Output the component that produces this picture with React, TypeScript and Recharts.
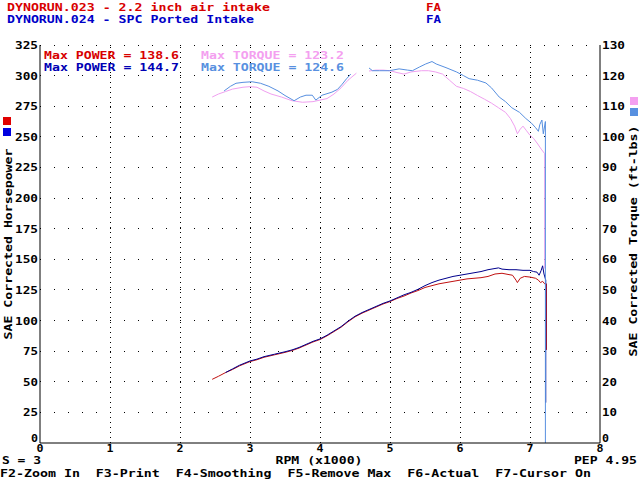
import React from "react";
import { LineChart, Line, XAxis, YAxis, ReferenceLine } from "recharts";

const FONT = "'DejaVu Sans Mono', 'Liberation Mono', monospace";
const TXT: React.CSSProperties = { fontFamily: FONT, fontSize: 10.5, fontWeight: 700, whiteSpace: "pre" };

const RPM_TICKS = [0, 1, 2, 3, 4, 5, 6, 7, 8];
const HP_TICKS = [0, 25, 50, 75, 100, 125, 150, 175, 200, 225, 250, 275, 300, 325];
const TQ_TICKS = [0, 10, 20, 30, 40, 50, 60, 70, 80, 90, 100, 110, 120, 130];

// DYNORUN.023 - 2.2 inch air intake
const R023_PWR_RPM = [2.46, 2.55, 2.65, 2.75, 2.85, 3.0, 3.1, 3.2, 3.35, 3.5, 3.6, 3.7, 3.8, 3.9, 4.0, 4.1, 4.2, 4.3, 4.4, 4.5, 4.6, 4.7, 4.8, 4.9, 5.0, 5.1, 5.2, 5.3, 5.4, 5.5, 5.6, 5.7, 5.8, 5.9, 6.0, 6.1, 6.2, 6.3, 6.4, 6.5, 6.6, 6.7, 6.75, 6.8, 6.82, 6.86, 6.92, 7.0, 7.08, 7.12, 7.15, 7.18, 7.21, 7.235, 7.235];
const R023_PWR_HP = [52, 54.5, 57.5, 60, 63, 66.5, 68, 70, 72, 74, 75.5, 77.5, 80, 82.5, 84.5, 87.5, 91, 94.5, 99, 103, 106, 108.5, 111, 113.5, 115.5, 118, 120, 122.5, 124.5, 127, 128.5, 130, 131, 132, 133, 134, 134.5, 135, 136, 138, 138.6, 137.5, 137, 133, 131, 134.5, 136, 135.5, 134.5, 133, 131, 132, 130, 130, 76];

const R023_TQ_RPM = [2.46, 2.55, 2.65, 2.75, 2.9, 3.0, 3.1, 3.2, 3.3, 3.45, 3.6, 3.75, 3.9, 4.0, 4.1, 4.2, 4.3, 4.4, 4.52, 4.6, 4.7, 4.8, 4.9, 5.0, 5.1, 5.2, 5.3, 5.45, 5.55, 5.65, 5.75, 5.85, 5.95, 6.05, 6.15, 6.25, 6.35, 6.45, 6.55, 6.65, 6.72, 6.78, 6.82, 6.86, 6.9, 6.95, 7.0, 7.05, 7.1, 7.16, 7.21, 7.21];
const R023_TQ = [113, 114, 114.8, 115.6, 116.2, 116.4, 116.2, 115, 114, 113, 111.8, 111.3, 111.5, 112, 112.5, 114, 116, 118.5, 120.8, null, 121.5, 121.8, 121.8, 121.6, 121, 120.5, 121.2, 121.6, 121.6, 121.2, 120.5, 118.5, 116.5, 115.8, 114.8, 113.5, 112.3, 111, 109.5, 108, 106, 103.5, 101, 102.5, 103.5, 102, 100.5, 99.5, 98, 96, 94.5, 57];

// DYNORUN.024 - SPC Ported Intake
const R024_PWR_RPM = [2.65, 2.75, 2.85, 3.0, 3.1, 3.2, 3.35, 3.5, 3.6, 3.7, 3.8, 3.9, 4.0, 4.1, 4.2, 4.3, 4.4, 4.5, 4.6, 4.7, 4.8, 4.9, 5.0, 5.1, 5.2, 5.3, 5.4, 5.5, 5.6, 5.7, 5.8, 5.9, 6.0, 6.1, 6.2, 6.3, 6.4, 6.5, 6.55, 6.6, 6.7, 6.8, 6.9, 7.0, 7.05, 7.1, 7.13, 7.16, 7.18, 7.2, 7.225, 7.225];
const R024_PWR_HP = [57.5, 60.5, 63.5, 67, 68.5, 70.5, 72.5, 74.5, 76, 78, 80.5, 83, 85, 88, 91.5, 95, 99.5, 103.5, 106.5, 109, 111.5, 114, 116, 118.5, 121, 123, 125.5, 128.5, 131, 133, 134.5, 136, 137, 138, 139, 140, 141.5, 142.5, 143, 142, 141.5, 141.5, 141, 141, 140, 139.5, 137, 141, 144.7, 138, 133, 33];

const R024_TQ_RPM = [2.63, 2.72, 2.8, 2.9, 3.03, 3.15, 3.27, 3.4, 3.5, 3.63, 3.72, 3.8, 3.89, 3.94, 4.03, 4.17, 4.25, 4.31, 4.38, 4.44, 4.6, 4.7, 4.75, 4.85, 4.99, 5.13, 5.25, 5.32, 5.42, 5.51, 5.6, 5.66, 5.8, 5.95, 6.05, 6.13, 6.25, 6.37, 6.45, 6.56, 6.65, 6.74, 6.85, 6.94, 7.02, 7.08, 7.12, 7.14, 7.17, 7.19, 7.22, 7.22];
const R024_TQ = [115, 116.5, 117.5, 117.8, 118, 117.5, 116.5, 115, 113.5, 111.8, 113, 113.6, 113.6, 112, 113.6, 114.6, 115.5, 117, 119, 120.5, null, 122.5, 121.6, 121.6, 121.6, 122.2, 121.8, 121.6, 122.8, 123.8, 124.6, 123.8, 122.6, 121.2, 120, 119, 118.5, 117.6, 116, 113, 111.5, 109.5, 108, 106, 104.5, 103, 101.8, 104, 105.5, 101, 105, 0];

const pts = (xs: number[], ys: (number | null)[]) => xs.map((x, i) => ({ rpm: x, v: ys[i] }));

// DOS-style text: every character is 8px wide
function T({ s, ...rest }: any) {
  return (
    <text textLength={s.length * 8 - 1} lengthAdjust="spacingAndGlyphs" style={TXT} {...rest}>
      {s}
    </text>
  );
}

function LeftTick(props: any) {
  const { x, y, payload } = props;
  return <T s={String(payload.value)} x={x} y={payload.value === 0 ? y - 5 : y} textAnchor="end" dominantBaseline="central" fill="#000" />;
}

function RightTick(props: any) {
  const { x, y, payload } = props;
  return <T s={String(payload.value)} x={x} y={payload.value === 0 ? y - 5 : y} textAnchor="start" dominantBaseline="central" fill="#000" />;
}

function BottomTick(props: any) {
  const { x, y, payload } = props;
  return <T s={String(payload.value)} x={x} y={y + 5} textAnchor="middle" dominantBaseline="central" fill="#000" />;
}

export default function App() {
  return (
    <div style={{ position: "absolute", left: 0, top: 0, width: 640, height: 480, background: "#fff" }}>
      <LineChart width={640} height={480} margin={{ top: 45, right: 0, bottom: 0, left: 0 }}>
        <XAxis
          type="number" dataKey="rpm" domain={[0, 8]} ticks={RPM_TICKS} interval={0}
          height={37} tickSize={0} tickMargin={0} tickLine={false}
          axisLine={{ stroke: "#000" }} tick={BottomTick}
        />
        <YAxis
          yAxisId="hp" orientation="left" type="number" domain={[0, 325]} ticks={HP_TICKS} interval={0}
          width={40} tickSize={0} tickMargin={2} tickLine={false}
          axisLine={{ stroke: "#000" }} tick={LeftTick}
        />
        <YAxis
          yAxisId="tq" orientation="right" type="number" domain={[0, 130]} ticks={TQ_TICKS} interval={0}
          width={40} tickSize={0} tickMargin={2} tickLine={false}
          axisLine={{ stroke: "#000" }} tick={RightTick}
        />
        {HP_TICKS.slice(1).map((v) => (
          <ReferenceLine key={"h" + v} yAxisId="hp" y={v} stroke="#000" strokeDasharray="1 13" shapeRendering="crispEdges" />
        ))}
        {RPM_TICKS.slice(1, -1).map((v) => (
          <ReferenceLine key={"v" + v} yAxisId="hp" x={v} stroke="#000" strokeDasharray="1 4" shapeRendering="crispEdges" />
        ))}
        <Line yAxisId="hp" data={pts(R023_PWR_RPM, R023_PWR_HP)} dataKey="v" type="linear" stroke="#c01010" strokeWidth={1} dot={false} isAnimationActive={false} />
        <Line yAxisId="hp" data={pts(R024_PWR_RPM, R024_PWR_HP)} dataKey="v" type="linear" stroke="#00008c" strokeWidth={1} dot={false} isAnimationActive={false} />
        <Line yAxisId="tq" data={pts(R023_TQ_RPM, R023_TQ)} dataKey="v" type="linear" stroke="#f0a0f0" strokeWidth={1} dot={false} isAnimationActive={false} />
        <Line yAxisId="tq" data={pts(R024_TQ_RPM, R024_TQ)} dataKey="v" type="linear" stroke="#5890e0" strokeWidth={1} dot={false} isAnimationActive={false} />
      </LineChart>

      <svg width={640} height={480} style={{ position: "absolute", left: 0, top: 0, pointerEvents: "none" }}>
        <T s="DYNORUN.023 - 2.2 inch air intake" x={7} y={11} fill="#d80000" />
        <T s="FA" x={426} y={11} fill="#d80000" />
        <T s="DYNORUN.024 - SPC Ported Intake" x={7} y={23} fill="#0000c8" />
        <T s="FA" x={426} y={23} fill="#0000c8" />

        <T s="Max POWER = 138.6" x={44} y={58.5} fill="#d80000" />
        <T s="Max TORQUE = 123.2" x={201} y={58.5} fill="#f4a0f0" />
        <T s="Max POWER = 144.7" x={44} y={70.5} fill="#0000b4" />
        <T s="Max TORQUE = 124.6" x={201} y={70.5} fill="#5890e0" />

        <rect x={3} y={117} width={8} height={8} fill="#e00000" />
        <rect x={3} y={128} width={8} height={8} fill="#0000e0" />
        <rect x={630} y={97} width={8} height={8} fill="#f4a0f0" />
        <rect x={630} y={108} width={8} height={8} fill="#5890e0" />

        <T s="SAE Corrected Horsepower" transform="translate(8,244) rotate(-90)" textAnchor="middle" dominantBaseline="central" fill="#000" />
        <T s="SAE Corrected Torque (ft-lbs)" transform="translate(633,241) rotate(-90)" textAnchor="middle" dominantBaseline="central" fill="#000" />

        <T s="S = 3" x={2} y={464} fill="#000" />
        <T s="RPM (x1000)" x={319} y={464} textAnchor="middle" fill="#000" />
        <T s="PEP 4.95" x={637} y={464} textAnchor="end" fill="#000" />
        <T s="F2-Zoom In  F3-Print  F4-Smoothing  F5-Remove Max  F6-Actual  F7-Cursor On" x={0} y={476.5} fill="#000" />
      </svg>
    </div>
  );
}
